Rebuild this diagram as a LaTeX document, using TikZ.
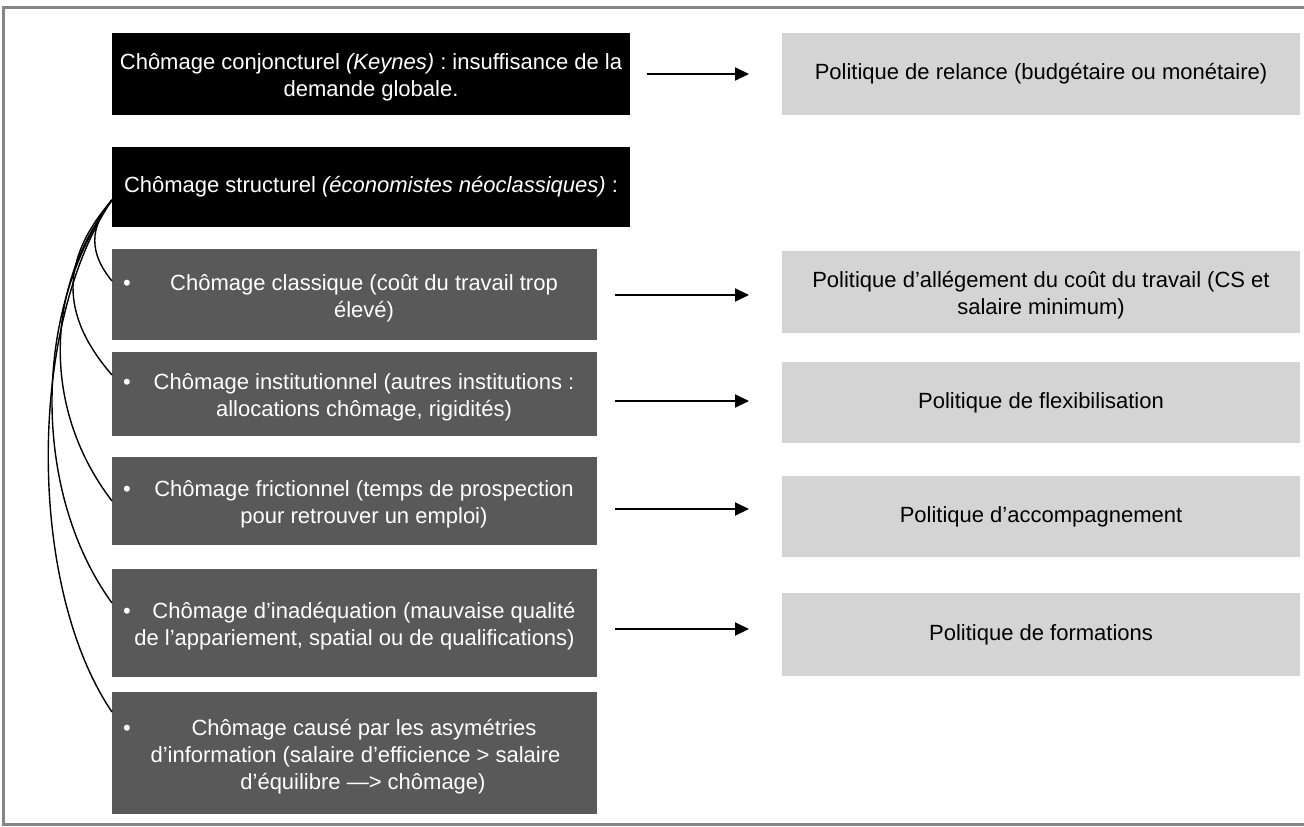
\documentclass[tikz,border=0pt]{standalone}
\usepackage{fontspec}
\setmainfont{Liberation Sans}
\usetikzlibrary{arrows.meta}
\definecolor{dkbox}{HTML}{595959}
\definecolor{ltbox}{HTML}{D4D4D4}
\definecolor{framegray}{HTML}{858585}
\newcommand{\gap}[1]{\hspace*{#1pt}}
\newcommand{\st}{\rule{0pt}{23pt}}
\frenchspacing
\begin{document}
\begin{tikzpicture}[x=1pt,y=-1pt,
  every node/.style={inner sep=0pt, outer sep=0pt, font=\fontsize{22}{27}\selectfont},
  blackbox/.style={fill=black, text=white, align=center, minimum width=518pt},
  darkbox/.style={fill=dkbox, text=white, align=center, minimum width=485pt},
  polbox/.style={fill=ltbox, text=black, align=center, minimum width=518pt},
  arr/.style={line width=2pt, -{Triangle[length=14pt,width=13pt]}},
  link/.style={line width=1.4pt},
  bul/.style={text=white, anchor=base}
]
\useasboundingbox (0,0) rectangle (1304,827);
\fill[white] (0,0) rectangle (1304,827);
\draw[framegray, line width=2.5pt] (1304,7.5) -- (3.5,7.5) -- (3.5,824.5) -- (1304,824.5);

% left column
\node[blackbox, minimum height=82pt] (b1) at (371,74) {\st Chômage conjoncturel \textit{(Keynes)} : insuffisance de la\\demande globale.};
\node[blackbox, minimum height=80pt] (b2) at (371,187) {Chômage structurel \textit{(économistes néoclassiques)} :};
\node[darkbox, minimum height=91pt] (b3) at (354.5,294.5) {\gap{19}\st Chômage classique (coût du travail trop\\\gap{19}élevé)};
\node[darkbox, minimum height=84pt] (b4) at (354.5,394) {\gap{19}\st Chômage institutionnel (autres institutions :\\\gap{19}allocations chômage, rigidités)};
\node[darkbox, minimum height=88pt] (b5) at (354.5,501) {\gap{19}\st Chômage frictionnel (temps de prospection\\\gap{19}pour retrouver un emploi)};
\node[darkbox, minimum height=108pt] (b6) at (354.5,623) {\gap{19}\st Chômage d’inadéquation (mauvaise qualité\\de l’appariement, spatial ou de qualifications)};
\node[darkbox, minimum height=122pt] (b7) at (354.5,753) {\gap{19}\st Chômage causé par les asymétries\\\gap{2}d’information (salaire d’efficience > salaire\\\gap{17}d’équilibre —> chômage)};

% bullets
\node[bul] (u3) at (127,290.2) {•};
\node[bul] (u4) at (127,389.7) {•};
\node[bul] (u5) at (127,496.7) {•};
\node[bul] (u6) at (127,618.7) {•};
\node[bul] (u7) at (127,735.2) {•};

% right column
\node[polbox, minimum height=82pt] (r1) at (1041,74) {Politique de relance (budgétaire ou monétaire)};
\node[polbox, minimum height=82pt] (r2) at (1041,292) {\st Politique d’allégement du coût du travail (CS et\\salaire minimum)};
\node[polbox, minimum height=81pt] (r3) at (1041,402.5) {Politique de flexibilisation};
\node[polbox, minimum height=81pt] (r4) at (1041,516.5) {Politique d’accompagnement};
\node[polbox, minimum height=83pt] (r5) at (1041,634.5) {Politique de formations};

% arrows
\coordinate (a1s) at (647,74);  \coordinate (a1e) at (749,74);
\coordinate (a2s) at (615,295); \coordinate (a2e) at (749,295);
\coordinate (a3s) at (615,401); \coordinate (a3e) at (749,401);
\coordinate (a4s) at (615,509); \coordinate (a4e) at (749,509);
\coordinate (a5s) at (615,629); \coordinate (a5e) at (749,629);
\draw[arr] (a1s) -- (a1e);
\draw[arr] (a2s) -- (a2e);
\draw[arr] (a3s) -- (a3e);
\draw[arr] (a4s) -- (a4e);
\draw[arr] (a5s) -- (a5e);

% curved links
\coordinate (cs) at ([yshift=-13pt]b2.west);
\draw[link] (cs) .. controls +(-23,28) and +(-23,-28) .. ([yshift=13.5pt]b3.west);
\draw[link] (cs) .. controls +(-52,60) and +(-52,-60) .. ([yshift=19pt]b4.west);
\draw[link] (cs) .. controls +(-69,90) and +(-69,-90) .. (b5.west);
\draw[link] (cs) .. controls +(-80,110) and +(-80,-110) .. ([yshift=20pt]b6.west);
\draw[link] (cs) .. controls +(-85,125) and +(-85,-125) .. ([yshift=41pt]b7.west);
\end{tikzpicture}
\end{document}
